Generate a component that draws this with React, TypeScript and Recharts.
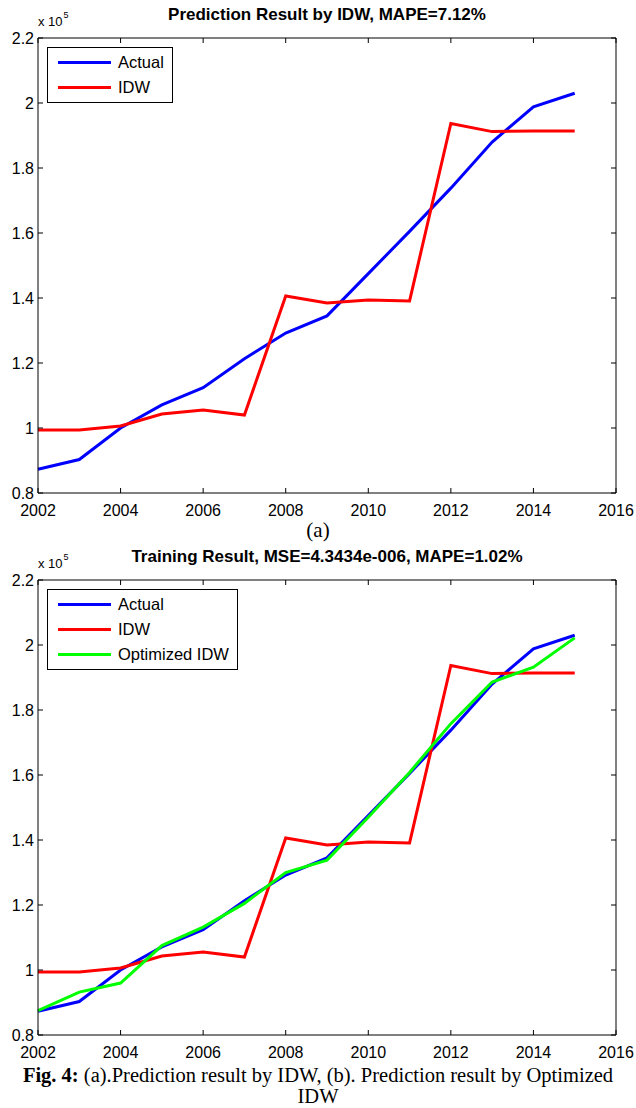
import React from "react";
import { LineChart, Line, XAxis, YAxis } from "recharts";

const years = [2002, 2003, 2004, 2005, 2006, 2007, 2008, 2009, 2010, 2011, 2012, 2013, 2014, 2015];
const actual = [0.873, 0.903, 1.0, 1.071, 1.124, 1.213, 1.292, 1.345, 1.475, 1.605, 1.738, 1.88, 1.988, 2.03];
const idw = [0.994, 0.994, 1.006, 1.043, 1.055, 1.04, 1.406, 1.385, 1.394, 1.391, 1.937, 1.912, 1.914, 1.914];
const optimized = [0.875, 0.932, 0.96, 1.075, 1.132, 1.205, 1.3, 1.338, 1.47, 1.608, 1.758, 1.886, 1.932, 2.022];

const xTicks = [2002, 2004, 2006, 2008, 2010, 2012, 2014, 2016];
const yTicks = [0.8, 1, 1.2, 1.4, 1.6, 1.8, 2, 2.2];

const titleA = "Prediction Result by IDW, MAPE=7.12%";
const titleB = "Training Result, MSE=4.3434e-006, MAPE=1.02%";

const data = years.map((y, i) => ({ year: y, actual: actual[i], idw: idw[i], optimized: optimized[i] }));

const FONT = '"Liberation Sans", Arial, sans-serif';
const SERIF = '"Liberation Serif", "Times New Roman", serif';
const tickStyle = { fontSize: 16, fill: "#000", fontFamily: FONT };

type Item = { name: string; color: string };

const LegendBox = ({ items, left, top }: { items: Item[]; left: number; top: number }) => (
  <div
    style={{
      position: "absolute",
      left,
      top,
      border: "1px solid #000",
      background: "#fff",
      padding: "2px 8px 2px 10px",
      fontFamily: FONT,
      fontSize: 16.5,
      lineHeight: "25px",
      zIndex: 2,
    }}
  >
    {items.map((it) => (
      <div key={it.name} style={{ display: "flex", alignItems: "center", whiteSpace: "nowrap" }}>
        <div style={{ width: 53, height: 3, background: it.color, marginRight: 7 }} />
        <span>{it.name}</span>
      </div>
    ))}
  </div>
);

const Panel = ({ top, title, items, showOpt }: { top: number; title: string; items: Item[]; showOpt: boolean }) => (
  <div style={{ position: "absolute", left: 0, top, width: 636, height: 520 }}>
    <div
      style={{
        position: "absolute",
        left: 38,
        width: 578,
        top: 5,
        textAlign: "center",
        fontFamily: FONT,
        fontWeight: "bold",
        fontSize: 17,
        lineHeight: "20px",
        whiteSpace: "nowrap",
      }}
    >
      {title}
    </div>
    <div style={{ position: "absolute", left: 38, top: 14, fontFamily: FONT, fontSize: 13, lineHeight: "16px" }}>
      x 10<span style={{ position: "relative", top: -8, fontSize: 9, marginLeft: 1 }}>5</span>
    </div>
    <LegendBox items={items} left={47} top={47} />
    <LineChart width={636} height={520} data={data} margin={{ top: 37, right: 19, bottom: 0, left: 0 }}>
      <XAxis
        dataKey="year"
        type="number"
        domain={[2002, 2016]}
        ticks={xTicks}
        height={27}
        stroke="#000"
        tickSize={-5}
        tickMargin={17}
        tick={tickStyle}
        interval={0}
      />
      <XAxis
        xAxisId="top"
        orientation="top"
        dataKey="year"
        type="number"
        domain={[2002, 2016]}
        ticks={xTicks}
        height={1}
        stroke="#000"
        tickSize={-5}
        tickFormatter={() => ""}
        interval={0}
      />
      <YAxis
        type="number"
        domain={[0.8, 2.2]}
        ticks={yTicks}
        width={38}
        stroke="#000"
        tickSize={-5}
        tickMargin={9}
        tick={tickStyle}
        interval={0}
        allowDataOverflow
      />
      <YAxis
        yAxisId="right"
        orientation="right"
        type="number"
        domain={[0.8, 2.2]}
        ticks={yTicks}
        width={1}
        stroke="#000"
        tickSize={-5}
        tickFormatter={() => ""}
        interval={0}
        allowDataOverflow
      />
      <Line dataKey="actual" name="Actual" stroke="#0000ff" strokeWidth={3} dot={false} isAnimationActive={false} />
      <Line
        dataKey="idw"
        name="IDW"
        xAxisId="top"
        yAxisId="right"
        stroke="#ff0000"
        strokeWidth={3}
        dot={false}
        isAnimationActive={false}
      />
      {showOpt && (
        <Line
          dataKey="optimized"
          name="Optimized IDW"
          stroke="#00ff00"
          strokeWidth={3}
          dot={false}
          isAnimationActive={false}
        />
      )}
    </LineChart>
  </div>
);

export default function App() {
  const itemsA: Item[] = [
    { name: "Actual", color: "#0000ff" },
    { name: "IDW", color: "#ff0000" },
  ];
  const itemsB: Item[] = [...itemsA, { name: "Optimized IDW", color: "#00ff00" }];
  return (
    <div style={{ position: "fixed", left: 0, top: 0, width: 636, height: 1108, background: "#fff", overflow: "hidden" }}>
      <Panel top={0} title={titleA} items={itemsA} showOpt={false} />
      <div
        style={{
          position: "absolute",
          left: 0,
          width: 636,
          top: 518,
          textAlign: "center",
          fontFamily: SERIF,
          fontSize: 21,
          lineHeight: "24px",
        }}
      >
        (a)
      </div>
      <Panel top={542} title={titleB} items={itemsB} showOpt={true} />
      <div
        style={{
          position: "absolute",
          left: 0,
          width: 636,
          top: 1065,
          textAlign: "center",
          fontFamily: SERIF,
          fontSize: 20.5,
          lineHeight: "21px",
          whiteSpace: "nowrap",
        }}
      >
        <b>Fig. 4:</b> (a).Prediction result by IDW, (b). Prediction result by Optimized
      </div>
      <div
        style={{
          position: "absolute",
          left: 0,
          width: 636,
          top: 1086,
          textAlign: "center",
          fontFamily: SERIF,
          fontSize: 20.5,
          lineHeight: "21px",
          whiteSpace: "nowrap",
        }}
      >
        IDW
      </div>
    </div>
  );
}
